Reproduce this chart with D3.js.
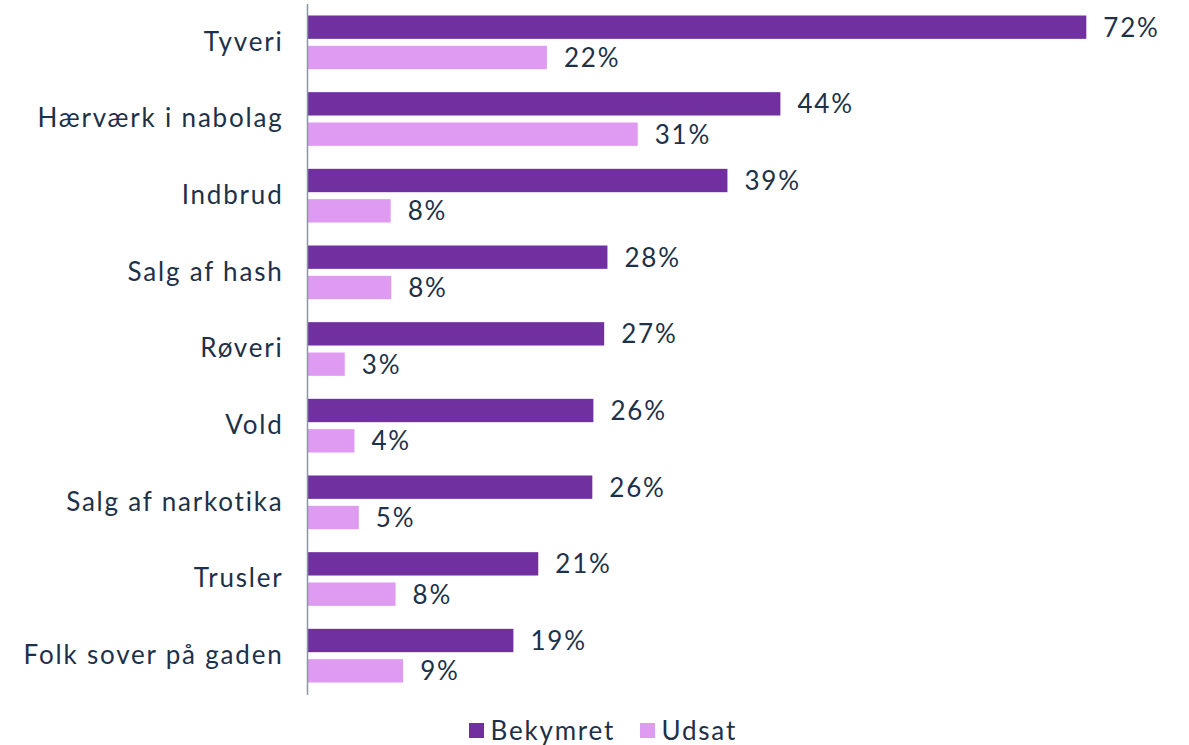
<!DOCTYPE html>
<html>
<head>
<meta charset="utf-8">
<script src="https://cdn.jsdelivr.net/npm/d3@7"></script>
<style>
  html, body { margin: 0; padding: 0; background: #ffffff; }
  svg { display: block; }
  text { font-family: Lato, "Open Sans", sans-serif; fill: #1d3148; letter-spacing: 1.8px; }
</style>
</head>
<body>
<svg id="chart" width="1189" height="745"></svg>
<script>
const categories = ["Tyveri", "Hærværk i nabolag", "Indbrud", "Salg af hash", "Røveri", "Vold", "Salg af narkotika", "Trusler", "Folk sover på gaden"];
const seriesNames = ["Bekymret", "Udsat"];
const bekymret = [72.0, 43.7, 38.8, 27.7, 27.4, 26.4, 26.3, 21.3, 19.0];
const udsat    = [22.1, 30.5, 7.65, 7.7, 3.4, 4.3, 4.7, 8.1, 8.8];
const colors = ["#7030a0", "#df9bf1"];

const svg = d3.select("#chart");
const x0 = 308;
const x = d3.scaleLinear().domain([0, 80]).range([x0, x0 + 10.81 * 80]);
const y = d3.scaleBand().domain(categories).range([4, 694]).paddingInner(0).paddingOuter(0);
const inner = d3.scaleBand().domain(seriesNames).range([11.5, y.bandwidth() - 11.5]).paddingInner(0.23);

const rows = categories.map((c, i) => ({ c, vals: [bekymret[i], udsat[i]] }));
const fmt = v => d3.format(".0f")(v) + "%";
const fs = "26px";

const g = svg.append("g");
const grp = g.selectAll("g.row").data(rows).join("g")
  .attr("transform", d => `translate(0,${y(d.c)})`);

grp.selectAll("rect").data(d => d.vals.map((v, k) => ({ v, k })))
  .join("rect")
  .attr("x", x(0))
  .attr("y", d => inner(seriesNames[d.k]))
  .attr("width", d => x(d.v) - x(0))
  .attr("height", inner.bandwidth())
  .attr("fill", d => colors[d.k]);

grp.selectAll("text.val").data(d => d.vals.map((v, k) => ({ v, k })))
  .join("text")
  .attr("class", "val")
  .attr("x", d => x(d.v) + 17)
  .attr("y", d => inner(seriesNames[d.k]) + inner.bandwidth() / 2)
  .attr("dy", "0.36em")
  .style("font-size", fs)
  .text(d => fmt(d.v));

// y axis
const yAxis = d3.axisLeft(y).tickSize(0).tickPadding(24);
const ax = svg.append("g").attr("transform", `translate(${x0 - 0.5},0)`).call(yAxis);
ax.select(".domain").attr("stroke", "#8a96a3").attr("stroke-width", 1.5).attr("d", "M0,4V695");
ax.selectAll(".tick text").style("font-size", fs).style("font-family", "Lato, 'Open Sans', sans-serif").attr("fill", "#1d3148");

// legend
const legend = svg.append("g");
const lx = [469, 640];
seriesNames.forEach((s, k) => {
  legend.append("rect").attr("x", lx[k]).attr("y", 723).attr("width", 15).attr("height", 15).attr("fill", colors[k]);
  legend.append("text").attr("x", lx[k] + 21.5).attr("y", 730.5).attr("dy", "0.36em").style("font-size", fs).text(s);
});
</script>
</body>
</html>
